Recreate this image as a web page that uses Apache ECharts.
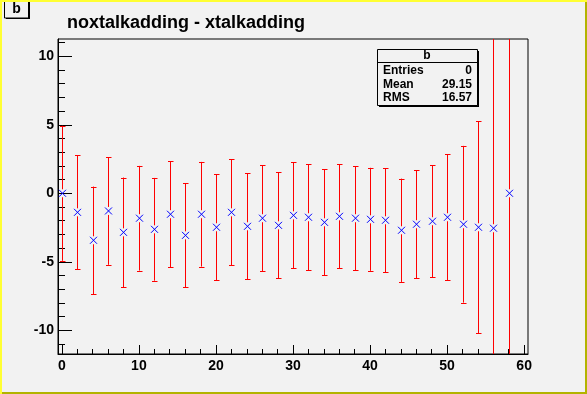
<!DOCTYPE html>
<html>
<head>
<meta charset="utf-8">
<script src="https://cdn.jsdelivr.net/npm/echarts@6/dist/echarts.min.js"></script>
<style>
html,body{margin:0;padding:0;background:#f2f2f2;}
#c{width:587px;height:394px;}
</style>
</head>
<body>
<div id="c"></div>
<script>
// ---- data ----
const xValues = [0,2,4,6,8,10,12,14,16,18,20,22,24,26,28,30,32,34,36,38,40,42,44,46,48,50,52,54,56,58];
const yValues = [0.0,-1.39,-3.43,-1.29,-2.85,-1.82,-2.63,-1.53,-3.07,-1.53,-2.48,-1.39,-2.41,-1.82,-2.34,-1.61,-1.75,-2.12,-1.68,-1.82,-1.90,-1.97,-2.70,-2.26,-2.04,-1.75,-2.26,-2.48,-2.55,0.0];
const yErrors = [4.93,4.16,3.92,3.93,4.0,3.82,3.75,3.86,3.8,3.82,3.87,3.87,3.87,3.86,3.87,3.87,3.87,3.87,3.8,3.8,3.76,3.8,3.77,3.95,4.1,4.6,5.72,7.74,20.0,25.0];
const xMajorTicks = [0,10,20,30,40,50,60];
const xMinorTicks = [0,2,4,6,8,10,12,14,16,18,20,22,24,26,28,30,32,34,36,38,40,42,44,46,48,50,52,54,56,58,60];
const yMajorTicks = [-10,-5,0,5,10];
const yMinorTicks = [-11,-10,-9,-8,-7,-6,-5,-4,-3,-2,-1,0,1,2,3,4,5,6,7,8,9,10,11];
const titleText = 'noxtalkadding - xtalkadding';
const statsName = 'b';
const statsRows = [['Entries','0'],['Mean','29.15'],['RMS','16.57']];

const seriesData = xValues.map((x,i)=>[x, yValues[i], yErrors[i]]);

const chart = echarts.init(document.getElementById('c'), null, {renderer:'canvas'});
const FONT = 'Liberation Sans, Arial, Helvetica, sans-serif';
const X_MIN = -0.5, X_MAX = 60.5, Y_MIN = -11.73, Y_MAX = 11.26;

function renderErr(params, api){
  const cs = params.coordSys;
  const x = api.value(0), y = api.value(1), e = api.value(2);
  const p = api.coord([x,y]);
  const pt = api.coord([x,y+e]);
  const pb = api.coord([x,y-e]);
  const top = cs.y, bot = cs.y + cs.height;
  const px = Math.round(p[0]) + 0.5;
  const ty = Math.max(pt[1], top), by = Math.min(pb[1], bot);
  const gap = 4;
  const red = {stroke:'#ff0000', lineWidth:1};
  const blue = {stroke:'#0000ff', lineWidth:1};
  const ch = [];
  if (p[1]-gap > ty) ch.push({type:'line', shape:{x1:px,y1:ty,x2:px,y2:p[1]-gap}, style:red});
  if (p[1]+gap < by) ch.push({type:'line', shape:{x1:px,y1:p[1]+gap,x2:px,y2:by}, style:red});
  if (pt[1] >= top) ch.push({type:'line', shape:{x1:px-2.5,y1:Math.round(pt[1])+0.5,x2:px+3,y2:Math.round(pt[1])+0.5}, style:red});
  if (pb[1] <= bot) ch.push({type:'line', shape:{x1:px-2.5,y1:Math.round(pb[1])+0.5,x2:px+3,y2:Math.round(pb[1])+0.5}, style:red});
  const s = 3.5;
  ch.push({type:'line', shape:{x1:px-s,y1:p[1]-s,x2:px+s,y2:p[1]+s}, style:blue});
  ch.push({type:'line', shape:{x1:px-s,y1:p[1]+s,x2:px+s,y2:p[1]-s}, style:blue});
  return {type:'group', children: ch};
}

const axisLabelStyle = {color:'#000', fontFamily:FONT, fontWeight:'bold', fontSize:14};

const statsChildren = [];
const SX = 377, SY = 49, SW = 100, SH = 56;
statsChildren.push({type:'rect', shape:{x:SX+2,y:SY+2,width:SW,height:SH}, style:{fill:'#000'}});
statsChildren.push({type:'rect', shape:{x:SX+0.5,y:SY+0.5,width:SW,height:SH}, style:{fill:'#f2f2f2', stroke:'#000', lineWidth:1}});
statsChildren.push({type:'line', shape:{x1:SX,y1:SY+13.5,x2:SX+SW,y2:SY+13.5}, style:{stroke:'#000', lineWidth:1}});
statsChildren.push({type:'text', x:SX+SW/2, y:SY+7, style:{text:statsName, fill:'#000', font:'bold 12px '+FONT, align:'center', verticalAlign:'middle'}});
statsRows.forEach((r,i)=>{
  const yy = SY + 21.5 + i*13.8;
  statsChildren.push({type:'text', x:SX+6, y:yy, style:{text:r[0], fill:'#000', font:'bold 12px '+FONT, align:'left', verticalAlign:'middle'}});
  statsChildren.push({type:'text', x:SX+SW-5, y:yy, style:{text:r[1], fill:'#000', font:'bold 12px '+FONT, align:'right', verticalAlign:'middle'}});
});

const option = {
  animation:false,
  backgroundColor:'#f2f2f2',
  grid:{left:58, top:39, width:470, height:315, show:true, borderColor:'#000', borderWidth:1, backgroundColor:'transparent', containLabel:false},
  xAxis:[
    {type:'value', min:X_MIN, max:X_MAX, position:'bottom',
     axisLine:{show:true, onZero:false, lineStyle:{color:'#000', width:1}},
     splitLine:{show:false},
     axisTick:{show:true, inside:true, length:9, customValues:xMajorTicks, lineStyle:{color:'#000'}},
     axisLabel:{show:true, customValues:xMajorTicks, margin:5, ...axisLabelStyle}},
    {type:'value', min:X_MIN, max:X_MAX, position:'bottom',
     axisLine:{show:false, onZero:false},
     splitLine:{show:false},
     axisTick:{show:true, inside:true, length:5, customValues:xMinorTicks, lineStyle:{color:'#000'}},
     axisLabel:{show:false}}
  ],
  yAxis:[
    {type:'value', min:Y_MIN, max:Y_MAX, position:'left',
     axisLine:{show:true, onZero:false, lineStyle:{color:'#000', width:1}},
     splitLine:{show:false},
     axisTick:{show:true, inside:true, length:14, customValues:yMajorTicks, lineStyle:{color:'#000'}},
     axisLabel:{show:true, customValues:yMajorTicks, margin:4, ...axisLabelStyle}},
    {type:'value', min:Y_MIN, max:Y_MAX, position:'left',
     axisLine:{show:false, onZero:false},
     splitLine:{show:false},
     axisTick:{show:true, inside:true, length:7, customValues:yMinorTicks, lineStyle:{color:'#000'}},
     axisLabel:{show:false}}
  ],
  title:{text:titleText, left:62, top:9, textStyle:{fontFamily:FONT, fontWeight:'bold', fontSize:18, color:'#000'}},
  series:[{
    type:'custom', xAxisIndex:0, yAxisIndex:0,
    renderItem: renderErr,
    encode:{x:0, y:1},
    data: seriesData,
    silent:true
  }],
  graphic:[
    {type:'rect', shape:{x:0,y:0,width:587,height:2}, style:{fill:'#ffff33'}, z:100},
    {type:'rect', shape:{x:0,y:0,width:2,height:394}, style:{fill:'#ffff33'}, z:100},
    {type:'rect', shape:{x:585,y:2,width:2,height:392}, style:{fill:'#b3b300'}, z:100},
    {type:'rect', shape:{x:2,y:392,width:585,height:2}, style:{fill:'#b3b300'}, z:100},
    {type:'rect', shape:{x:6,y:0,width:24,height:19}, style:{fill:'#000'}, z:50},
    {type:'rect', shape:{x:4.5,y:-1,width:24,height:19}, style:{fill:'#f2f2f2', stroke:'#000', lineWidth:1}, z:51},
    {type:'text', x:16.5, y:9.5, style:{text:statsName, fill:'#000', font:'bold 14px '+FONT, align:'center', verticalAlign:'middle'}, z:52},
    {type:'group', children: statsChildren, z:60}
  ]
};
chart.setOption(option);
</script>
</body>
</html>
